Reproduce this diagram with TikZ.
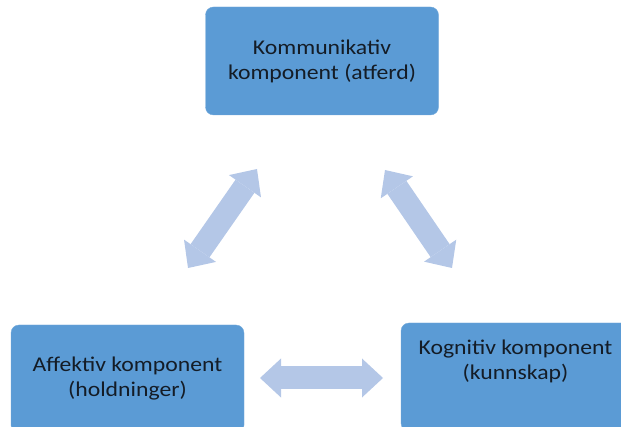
\documentclass[tikz,border=0pt]{standalone}
\usepackage{fontspec}
\setmainfont{Carlito}[FakeStretch=1.13]
\usepackage{xcolor}
\usepackage{tikz}
\usetikzlibrary{arrows.meta, positioning, calc}
\definecolor{boxblue}{RGB}{91,155,213}
\definecolor{linkblue}{RGB}{180,199,231}
\definecolor{textdark}{RGB}{20,28,38}

\begin{document}
\begin{tikzpicture}[x=1pt, y=-1pt,
    box/.style={rectangle, rounded corners=8pt, draw=boxblue!85!white, fill=boxblue,
                minimum width=233pt, minimum height=108pt, align=center,
                text=textdark, font=\fontsize{21}{25}\selectfont},
    boxtext/.style={align=center, text=textdark, font=\fontsize{21}{25}\selectfont},
    link/.style={linkblue, line width=23pt,
                 {Triangle[length=21pt, width=39pt, line width=0pt]}-{Triangle[length=21pt, width=39pt, line width=0pt]}}
]
\useasboundingbox (0,0) rectangle (621,427);
\clip (0,0) rectangle (621,427);

\node[box] (komm) at (322,61) {Kommunikativ\\komponent (atferd)};
\node[box] (aff) at (127.5,379) {Affektiv komponent\\(holdninger)};
\node[box] (kog) at (517.5,377) {};
\node[boxtext] (kogtxt) at ($(kog.center)+(-2,-16)$) {Kognitiv komponent\\(kunnskap)};

% tips of the double arrows
\coordinate (affup) at (188,268);
\coordinate (kommleft) at (257,169);
\coordinate (kommright) at (385,170);
\coordinate (kogup) at (452,268);
\coordinate (affright) at (260,378);
\coordinate (kogleft) at (383,378);

\draw[link] (affup) -- (kommleft);
\draw[link] (kommright) -- (kogup);
\draw[link] (affright) -- (kogleft);
\end{tikzpicture}
\end{document}
